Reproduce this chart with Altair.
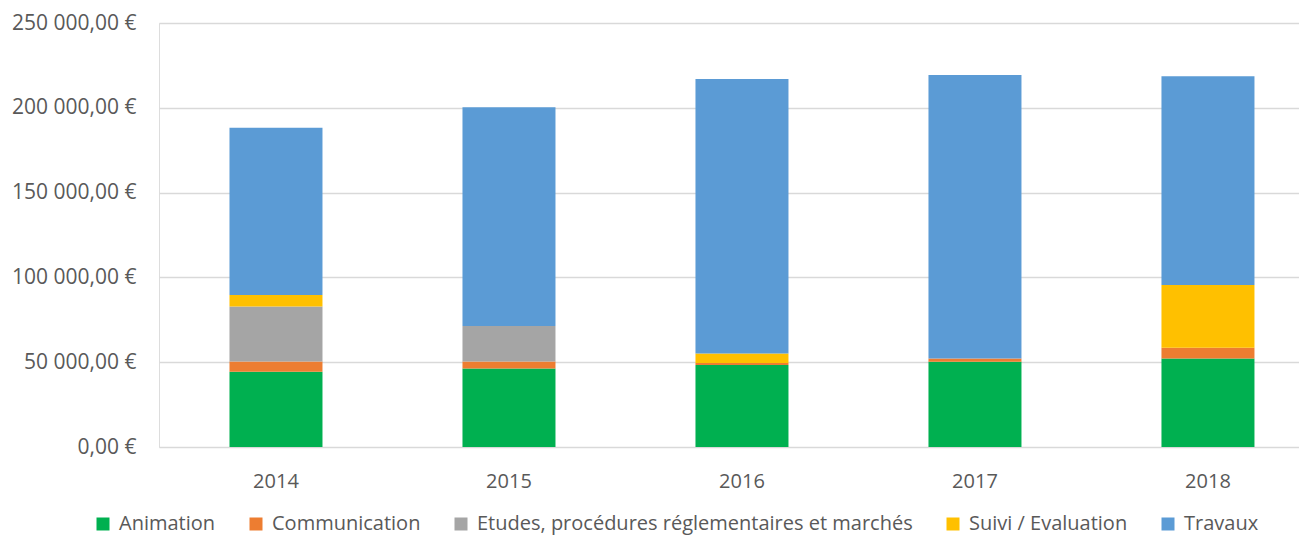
import altair as alt
import pandas as pd

years = ["2014", "2015", "2016", "2017", "2018"]
series = ["Animation", "Communication", "Etudes, procédures réglementaires et marchés", "Suivi / Evaluation", "Travaux"]
colors = ["#00B050", "#ED7D31", "#A5A5A5", "#FFC000", "#5B9BD5"]

animation = [44300, 46300, 48400, 50200, 52200]
communication = [6100, 4100, 1200, 2000, 6260]
etudes = [32500, 21000, 0, 0, 0]
suivi = [6700, 0, 5500, 0, 37000]
travaux = [98600, 128900, 161900, 167200, 123100]

values = [animation, communication, etudes, suivi, travaux]
rows = []
for si, (s, vals) in enumerate(zip(series, values)):
    for y, v in zip(years, vals):
        rows.append({"year": y, "serie": s, "value": v, "idx": si})
df = pd.DataFrame(rows)

FONT = "Open Sans"

chart = alt.Chart(df).mark_bar(size=93).encode(
    x=alt.X("year:N", title=None,
            scale=alt.Scale(paddingInner=0.6, paddingOuter=0.2464, align=0.613),
            axis=alt.Axis(labelAngle=0, ticks=False, domain=False, labelFontSize=20,
                          labelColor="#595959", labelFont=FONT, labelPadding=24)),
    y=alt.Y("value:Q", title=None, stack="zero",
            scale=alt.Scale(domain=[0, 250000]),
            axis=alt.Axis(values=[0, 50000, 100000, 150000, 200000, 250000], format="$,.2f",
                          ticks=False, domain=False, labelFontSize=21, labelColor="#595959",
                          labelFont=FONT, labelPadding=23, gridColor="#D9D9D9", gridWidth=1.3)),
    color=alt.Color("serie:N", title=None,
                    scale=alt.Scale(domain=series, range=colors),
                    legend=alt.Legend(orient="none", legendX=-66, legendY=491,
                                      direction="horizontal", columns=5,
                                      symbolType="square", symbolSize=169, symbolStrokeWidth=0,
                                      labelFontSize=20, labelColor="#595959", labelFont=FONT,
                                      labelLimit=0, columnPadding=30, labelOffset=6)),
    order=alt.Order("idx:Q", sort="ascending"),
).properties(
    width=1140, height=424,
    padding={"left": 3, "top": 4, "right": 0, "bottom": 3},
).configure_view(stroke=None).configure(
    locale={"number": {"decimal": ",", "thousands": " ", "grouping": [3], "currency": ["", " €"]}}
)

chart.save("out.html", embed_options={"renderer": "svg", "actions": False})
